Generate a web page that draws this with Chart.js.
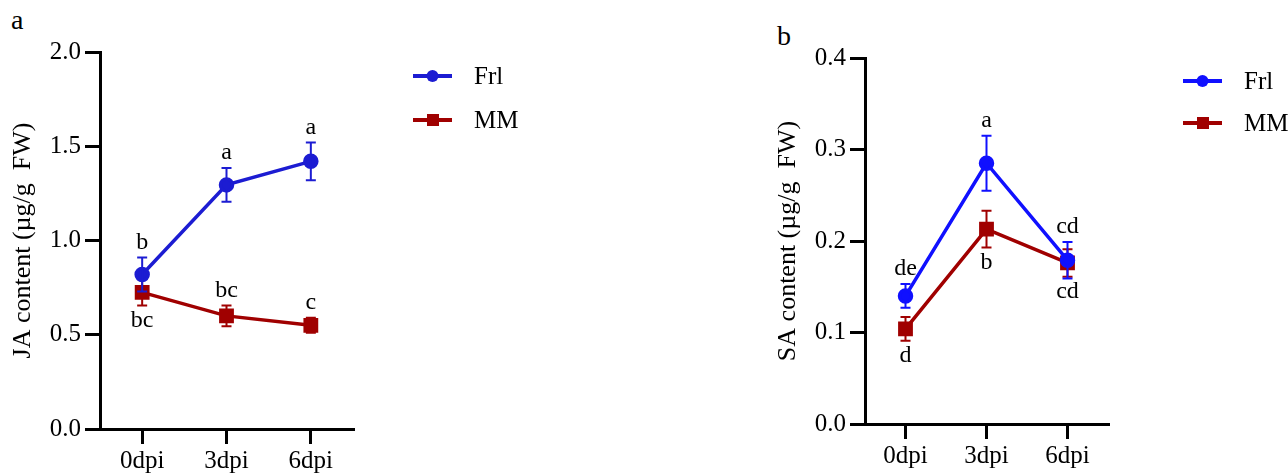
<!DOCTYPE html>
<html>
<head>
<meta charset="utf-8">
<script src="https://cdn.jsdelivr.net/npm/chart.js@4.4.1/dist/chart.umd.min.js"></script>
<style>
  html, body { margin: 0; padding: 0; background: #fff; }
  #wrap { position: relative; width: 1288px; height: 475px; overflow: hidden; }
  .panel { position: absolute; top: 0; height: 475px; }
  .tag { position: absolute; font: 28px "Liberation Serif", "Times New Roman", serif; color: #000; }
</style>
</head>
<body>
<div id="wrap">
  <div class="tag" style="left:11px;top:4px;">a</div>
  <div class="tag" style="left:777px;top:20px;">b</div>
  <div class="panel" style="left:0;width:640px;"><canvas id="chartJA"></canvas></div>
  <div class="panel" style="left:640px;width:648px;"><canvas id="chartSA"></canvas></div>
</div>
<script>
// Shared categories
const days = ['0dpi', '3dpi', '6dpi'];

// JA content (µg/g FW)
const jaFrl = [0.82, 1.295, 1.42];
const jaFrlErr = [0.09, 0.09, 0.10];
const jaFrlLetters = ['b', 'a', 'a'];
const jaMM = [0.725, 0.60, 0.55];
const jaMMErr = [0.07, 0.055, 0.04];
const jaMMLetters = ['bc', 'bc', 'c'];
const jaTicks = [0, 0.5, 1.0, 1.5, 2.0];

// SA content (µg/g FW)
const saFrl = [0.140, 0.285, 0.179];
const saFrlErr = [0.013, 0.030, 0.020];
const saFrlLetters = ['de', 'a', 'cd'];
const saMM = [0.104, 0.213, 0.176];
const saMMErr = [0.013, 0.020, 0.015];
const saMMLetters = ['d', 'b', 'cd'];
const saTicks = [0, 0.1, 0.2, 0.3, 0.4];

const SERIF = '"Liberation Serif", "Times New Roman", serif';
const RED = '#a00000';

// Error bars drawn right after their own dataset, so later (upper) datasets cover them.
const errorBars = {
    id: 'errorBars',
    afterDatasetDraw(chart, args) {
        const ds = chart.data.datasets[args.index];
        if (!ds.errors) return;
        const { ctx } = chart;
        const xs = chart.scales.x, ys = chart.scales.y;
        ctx.save();
        ctx.strokeStyle = ds.borderColor;
        ctx.lineWidth = 2;
        ds.data.forEach((v, i) => {
            const x = xs.getPixelForValue(i);
            const top = ys.getPixelForValue(v + ds.errors[i]);
            const bot = ys.getPixelForValue(v - ds.errors[i]);
            ctx.beginPath();
            ctx.moveTo(x, top); ctx.lineTo(x, bot);
            ctx.moveTo(x - 5, top); ctx.lineTo(x + 5, top);
            ctx.moveTo(x - 5, bot); ctx.lineTo(x + 5, bot);
            ctx.stroke();
        });
        ctx.restore();
    },
};

// Significance letters, above (side 1) or below (side -1) the error bar.
const letters = {
    id: 'letters',
    afterDatasetsDraw(chart) {
        const { ctx } = chart;
        const xs = chart.scales.x, ys = chart.scales.y;
        ctx.save();
        ctx.fillStyle = '#000';
        ctx.font = '24px ' + SERIF;
        ctx.textAlign = 'center';
        chart.data.datasets.forEach(ds => {
            (ds.letters || []).forEach((t, i) => {
                const side = ds.letterSide[i];
                const v = ds.data[i] + side * ds.errors[i];
                const x = xs.getPixelForValue(i);
                const y = ys.getPixelForValue(v);
                if (side > 0) {
                    ctx.textBaseline = 'bottom';
                    ctx.fillText(t, x, y - 3);
                } else {
                    ctx.textBaseline = 'top';
                    ctx.fillText(t, x, y + 3);
                }
            });
        });
        ctx.restore();
    },
};

// Legend: line segment with marker, to the right of the plot.
const sideLegend = {
    id: 'sideLegend',
    afterDraw(chart, args, opts) {
        const { ctx } = chart;
        const x0 = chart.chartArea.right + opts.dx;
        ctx.save();
        chart.data.datasets.forEach((ds, i) => {
            const y = opts.y0 + i * opts.gap;
            ctx.strokeStyle = ds.borderColor;
            ctx.lineWidth = 4;
            ctx.beginPath();
            ctx.moveTo(x0, y); ctx.lineTo(x0 + 39, y);
            ctx.stroke();
            ctx.fillStyle = ds.borderColor;
            if (ds.pointStyle === 'rect') {
                ctx.fillRect(x0 + 14, y - 6, 12, 12);
            } else {
                ctx.beginPath();
                ctx.arc(x0 + 19.5, y, 6, 0, Math.PI * 2);
                ctx.fill();
            }
            ctx.fillStyle = '#000';
            ctx.font = '25px ' + SERIF;
            ctx.textBaseline = 'middle';
            ctx.fillText(ds.label, x0 + 61, y + 1);
        });
        ctx.restore();
    },
};

function panel(canvasId, cfg) {
    const axisLine = { display: true, color: '#000', width: 3 };
    const tickFont = { family: SERIF, size: 25 };
    new Chart(document.getElementById(canvasId), {
        type: 'line',
        data: {
            labels: days,
            datasets: [
                {
                    label: 'Frl', data: cfg.frl, errors: cfg.frlErr,
                    letters: cfg.frlLetters, letterSide: cfg.frlSide,
                    borderColor: cfg.blue, backgroundColor: cfg.blue,
                    borderWidth: 3.5, pointStyle: 'circle', pointRadius: 6, tension: 0,
                },
                {
                    label: 'MM', data: cfg.mm, errors: cfg.mmErr,
                    letters: cfg.mmLetters, letterSide: cfg.mmSide,
                    borderColor: RED, backgroundColor: RED,
                    borderWidth: 3.5, pointStyle: 'rect', pointRadius: 8, tension: 0,
                },
            ],
        },
        options: {
            responsive: true,
            maintainAspectRatio: false,
            animation: false,
            layout: { padding: cfg.padding },
            plugins: {
                legend: { display: false },
                tooltip: { enabled: false },
                sideLegend: cfg.legend,
            },
            scales: {
                x: {
                    offset: true,
                    border: axisLine,
                    grid: { drawOnChartArea: false, drawTicks: true, tickLength: 15, color: '#000', lineWidth: 3 },
                    ticks: { color: '#000', font: tickFont, padding: 2, maxRotation: 0 },
                    afterFit: s => { s.height = cfg.xHeight; },
                },
                y: {
                    min: 0, max: cfg.max,
                    border: axisLine,
                    grid: { drawOnChartArea: false, drawTicks: true, tickLength: 15, color: '#000', lineWidth: 3 },
                    afterBuildTicks: s => { s.ticks = cfg.ticks.map(v => ({ value: v })); },
                    ticks: { color: '#000', font: tickFont, padding: 4, callback: v => v.toFixed(1) },
                    title: {
                        display: true, text: cfg.title, color: '#000',
                        font: { family: SERIF, size: 26 }, padding: { top: 8, bottom: 0 },
                    },
                    afterFit: s => { s.width = 100; },
                },
            },
        },
        plugins: [errorBars, letters, sideLegend],
    });
}

panel('chartJA', {
    frl: jaFrl, frlErr: jaFrlErr, frlLetters: jaFrlLetters, frlSide: [1, 1, 1],
    mm: jaMM, mmErr: jaMMErr, mmLetters: jaMMLetters, mmSide: [-1, 1, 1],
    blue: '#1c1cd2', max: 2.0, ticks: jaTicks,
    title: 'JA content (µg/g  FW)',
    padding: { left: 0, top: 52, right: 287, bottom: 0 },
    xHeight: 46,
    legend: { dx: 60, y0: 76, gap: 44 },
});

panel('chartSA', {
    frl: saFrl, frlErr: saFrlErr, frlLetters: saFrlLetters, frlSide: [1, 1, 1],
    mm: saMM, mmErr: saMMErr, mmLetters: saMMLetters, mmSide: [-1, -1, -1],
    blue: '#1010ff', max: 0.4, ticks: saTicks,
    title: 'SA content (µg/g  FW)',
    padding: { left: 125, top: 58, right: 180, bottom: 0 },
    xHeight: 51,
    legend: { dx: 75, y0: 81, gap: 42 },
});
</script>
</body>
</html>
